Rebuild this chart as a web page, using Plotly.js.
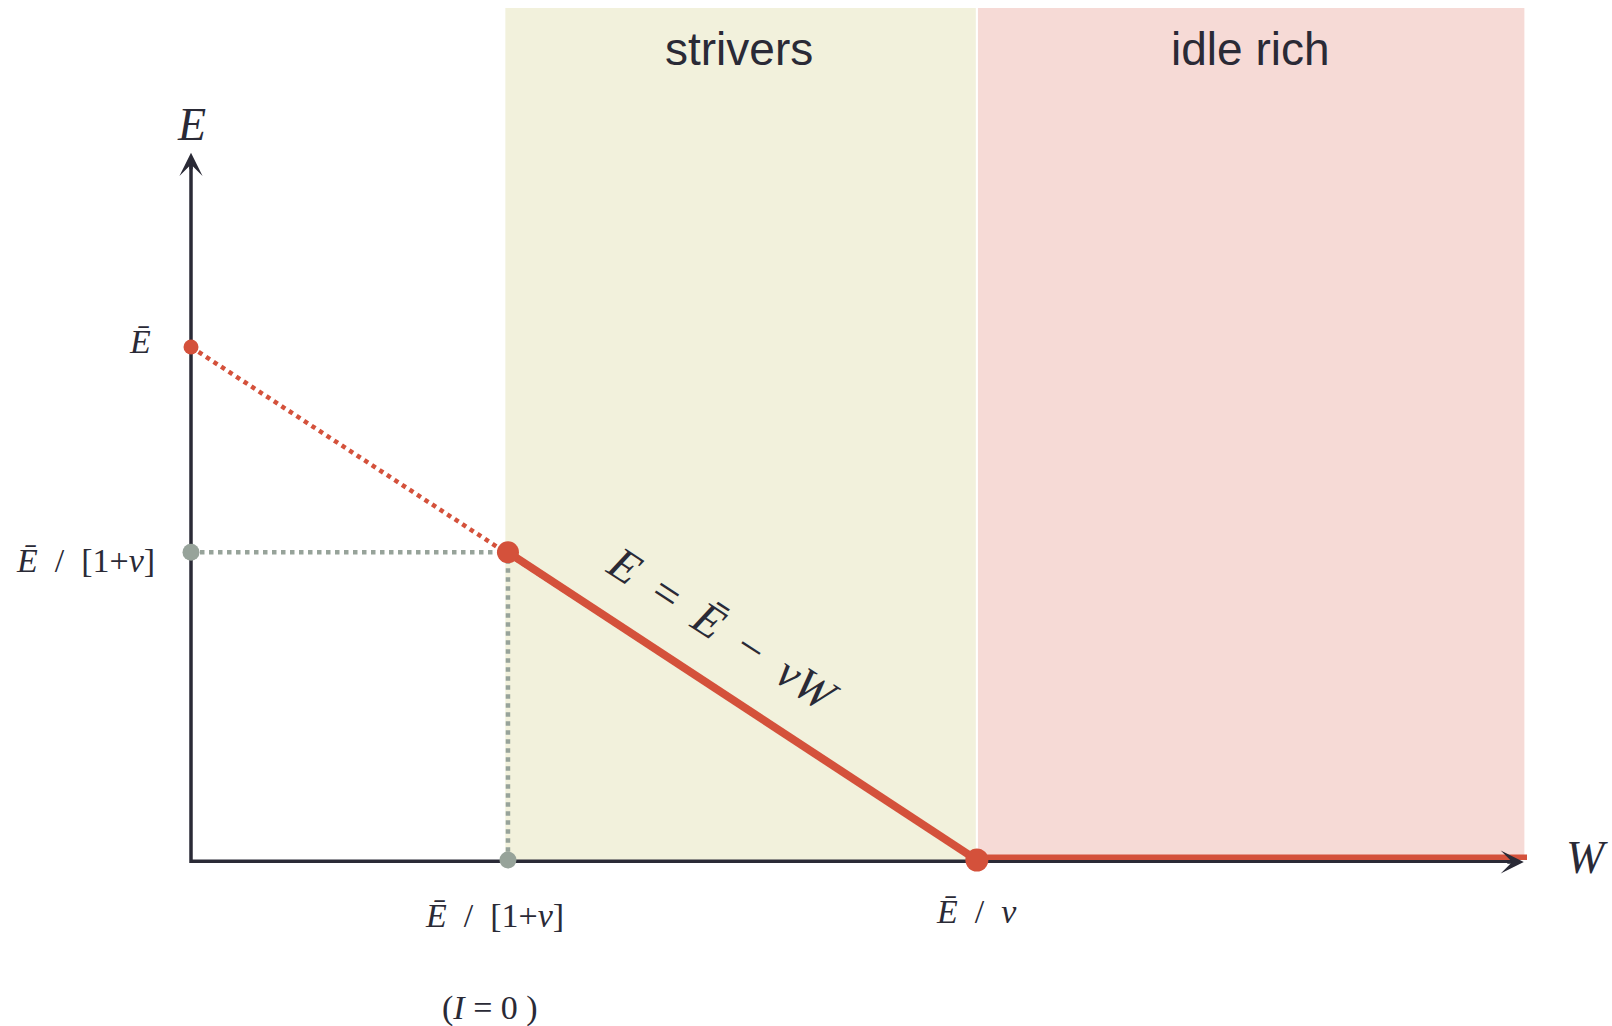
<!DOCTYPE html>
<html>
<head>
<meta charset="utf-8">
<script src="https://cdn.plot.ly/plotly-3.0.1.min.js"></script>
<style>
html,body{margin:0;padding:0;background:#fff;}
#chart{width:1612px;height:1026px;}
</style>
</head>
<body>
<div id="chart"></div>
<script>
// Values (E-bar normalised to 1)
const regionNames = ["strivers", "idle rich"];
const regionStartW = [0.6, 1.5];
const regionEndW = [1.5, 2.545];

const budgetLineW = [0, 1.5];
const budgetLineE = [1, 0];

const striversW = [0.605, 1.5];
const striversE = [0.6, 0];

const idleW = [1.5, 2.55];
const idleE = [0.004, 0.004];

const guideW = [0, 0.605, 0.605];
const guideE = [0.6, 0.6, 0];

const redDotW = [0, 0.605, 1.5];
const redDotE = [1, 0.6, 0];
const redDotSize = [15, 22, 23];

const grayDotW = [0, 0.605];
const grayDotE = [0.6, 0];

const RED = "#D4513B";
const GRAY = "#97A39A";
const INK = "#2A2A36";
const SERIF = "Liberation Serif, Times New Roman, serif";
const SANS = "Liberation Sans, Arial, sans-serif";
const nb = "\u00A0";

const traces = [
  {x: guideW, y: guideE, mode: "lines", line: {color: GRAY, width: 4.5, dash: "dot"}, cliponaxis: false, hoverinfo: "skip"},
  {x: budgetLineW, y: budgetLineE, mode: "lines", line: {color: RED, width: 4.5, dash: "dot"}, cliponaxis: false, hoverinfo: "skip"},
  {x: striversW, y: striversE, mode: "lines", line: {color: RED, width: 8}, cliponaxis: false, hoverinfo: "skip"},
  {x: idleW, y: idleE, mode: "lines", line: {color: RED, width: 7}, cliponaxis: false, hoverinfo: "skip"},
  {x: grayDotW, y: grayDotE, mode: "markers", marker: {color: GRAY, size: 17, opacity: 1, line: {width: 0}}, cliponaxis: false, hoverinfo: "skip"},
  {x: redDotW, y: redDotE, mode: "markers", marker: {color: RED, size: redDotSize, opacity: 1, line: {width: 0}}, cliponaxis: false, hoverinfo: "skip"}
];

const shapes = [];
const bandColors = ["#F2F1DC", "#F6DAD6"];
regionNames.forEach((n, i) => {
  shapes.push({type: "rect", xref: "x", yref: "paper", x0: regionStartW[i] + (i ? 0.002 : 0), x1: regionEndW[i] - (i ? 0 : 0.002), y0: 0, y1: 1,
    fillcolor: bandColors[i], line: {width: 0}, layer: "below"});
});
// axes (paper refs so the lines are not clipped at the plot edge)
shapes.push({type: "line", xref: "paper", yref: "paper", x0: 0, x1: 0.994, y0: -0.0015, y1: -0.0015, line: {color: INK, width: 3.5}, layer: "below"});
shapes.push({type: "line", xref: "paper", yref: "paper", x0: 0, x1: 0, y0: -0.0035, y1: 0.82, line: {color: INK, width: 3.5}, layer: "below"});

function ann(text, x, y, size, font, extra) {
  return Object.assign({text: text, x: x, y: y, xref: "paper", yref: "paper", showarrow: false,
    font: {family: font, size: size, color: INK}, xanchor: "center", yanchor: "middle"}, extra || {});
}

const slash = nb + nb + "/" + nb + nb;
const annotations = [
  ann(regionNames[0], 0.41, 0.952, 46, SANS),
  ann(regionNames[1], 0.7927, 0.952, 46, SANS),
  ann("<i>E</i>", 0, 0.8627, 46, SERIF),
  ann("<i>W</i>", 1.0449, 0.0035, 46, SERIF),
  ann("<i>Ē</i>", -0.0382, 0.609, 34, SERIF),
  ann("<i>Ē</i>" + slash + "[1+<i>v</i>]", -0.0793, 0.351, 34, SERIF),
  ann("<i>Ē</i>" + slash + "[1+<i>v</i>]", 0.2268, -0.0646, 34, SERIF),
  ann("(<i>I</i>" + nb + "=" + nb + "0" + nb + ")", 0.2238, -0.1737, 34, SERIF),
  ann("<i>Ē</i>" + slash + "<i>v</i>", 0.5883, -0.0599, 34, SERIF),
  ann("<i>E</i>" + nb + nb + "=" + nb + nb + "<i>Ē</i>" + nb + nb + "−" + nb + nb + "<i>vW</i>", 0.398, 0.270, 46, SERIF, {textangle: 33}),
  // arrowheads of the axes
  {x: 0, y: 0.83, xref: "paper", yref: "paper", ax: 0, ay: 18, axref: "pixel", ayref: "pixel", text: "", showarrow: true,
    arrowhead: 3, arrowsize: 1.1, arrowwidth: 3.5, arrowcolor: INK, standoff: 0},
  {x: 0.9976, y: -0.0023, xref: "paper", yref: "paper", ax: -18, ay: 0, axref: "pixel", ayref: "pixel", text: "", showarrow: true,
    arrowhead: 3, arrowsize: 1.1, arrowwidth: 3.5, arrowcolor: INK, standoff: 0}
];

const layout = {
  width: 1612, height: 1026,
  margin: {l: 191, r: 85, t: 8, b: 166},
  paper_bgcolor: "#ffffff", plot_bgcolor: "rgba(0,0,0,0)",
  showlegend: false,
  xaxis: {range: [0, 2.55], visible: false, fixedrange: true},
  yaxis: {range: [0, 1.661], visible: false, fixedrange: true},
  shapes: shapes,
  annotations: annotations
};

Plotly.newPlot("chart", traces, layout, {displayModeBar: false, staticPlot: true});
</script>
</body>
</html>
